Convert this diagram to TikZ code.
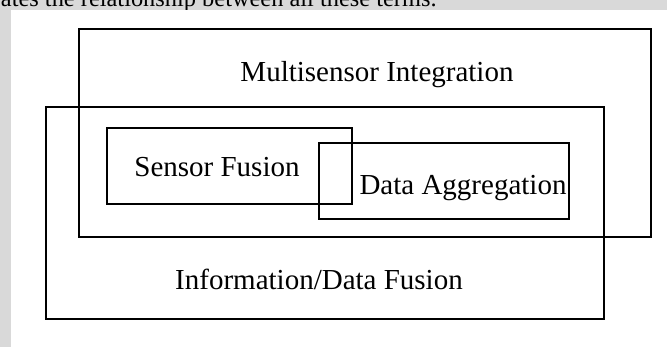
\documentclass[tikz,border=0pt]{standalone}
\usepackage{fontspec}
\setmainfont{Liberation Serif}
\usepackage{tikz}

\definecolor{pagegray}{RGB}{217,217,217}

\tikzset{
	box/.style={draw=black,line width=0.8pt},
	term/.style={font=\fontsize{14.5}{17}\selectfont,inner sep=0pt,anchor=base}
}

\begin{document}
\begin{tikzpicture}[x=0.5pt,y=0.5pt]
	\useasboundingbox (0,0) rectangle (667,347);
	% page behind the figure
	\fill[pagegray] (0,0) rectangle (667,347);
	\fill[white] (11,0) rectangle (667,337);
	\begin{scope}
		\clip (0,337) rectangle (667,347);
		\node[term,font=\fontsize{12.2}{14}\selectfont,anchor=base east] (caption) at (437,340)
			{ates the relationship between all these terms.};
	\end{scope}
	% the four sets
	\draw[box] (79,110) rectangle (651,318);
	\draw[box] (46,28) rectangle (604,240);
	\draw[box] (107,143) rectangle (352,219);
	\draw[box] (319,128) rectangle (569,204);
	% labels
	\node[term] (multi) at (377,265) {Multisensor Integration};
	\node[term] (fusion) at (217,170) {Sensor Fusion};
	\node[term] (aggr) at (463,152) {Data Aggregation};
	\node[term] (info) at (319,57) {Information/Data Fusion};
\end{tikzpicture}
\end{document}
